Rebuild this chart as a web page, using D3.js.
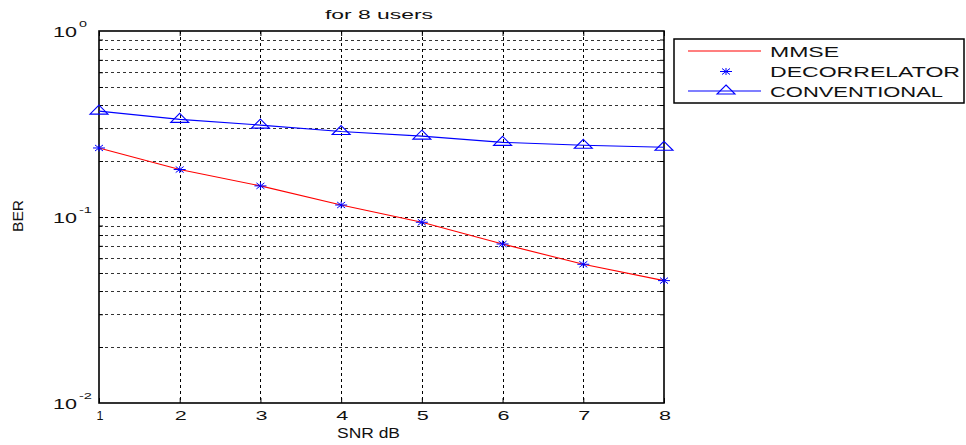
<!DOCTYPE html>
<html>
<head>
<meta charset="utf-8">
<script src="https://cdn.jsdelivr.net/npm/d3@7/dist/d3.min.js"></script>
<style>
  html, body { margin: 0; padding: 0; background: #fff; }
  svg { display: block; }
  text { font-family: "Liberation Sans", Arial, Helvetica, sans-serif; fill: #111; }
</style>
</head>
<body>
<svg id="chart" width="966" height="445"></svg>
<script>
// BER versus SNR for 8 users
const snr = [1, 2, 3, 4, 5, 6, 7, 8];
const mmse = [0.235, 0.180, 0.147, 0.116, 0.0937, 0.0716, 0.0557, 0.0455];
const decorrelator = [0.235, 0.180, 0.147, 0.116, 0.0937, 0.0716, 0.0557, 0.0455];
const conventional = [0.371, 0.335, 0.312, 0.288, 0.272, 0.252, 0.243, 0.237];
const xTicks = [1, 2, 3, 4, 5, 6, 7, 8];
const yDecades = [{ v: 1, exp: "0" }, { v: 0.1, exp: "-1" }, { v: 0.01, exp: "-2" }];
const legendNames = ["MMSE", "DECORRELATOR", "CONVENTIONAL"];

const svg = d3.select("#chart");
const L = 99, R = 664, T = 31, B = 403;

const x = d3.scaleLinear().domain([1, 8]).range([L, R]);
const y = d3.scaleLog().domain([0.01, 1]).range([B, T]);

// minor log positions (2..9 in each decade)
const yGrid = [];
[0.01, 0.1].forEach(d => { for (let k = 2; k <= 9; k++) yGrid.push(d * k); });

const g = svg.append("g");

// grid
g.selectAll("line.hgrid").data(yGrid).join("line")
  .attr("x1", L).attr("x2", R)
  .attr("y1", d => Math.round(y(d)) + 0.5).attr("y2", d => Math.round(y(d)) + 0.5)
  .attr("stroke", "#333").attr("stroke-width", 1).attr("stroke-dasharray", "3,3");
g.selectAll("line.hmaj").data([0.1]).join("line")
  .attr("x1", L).attr("x2", R)
  .attr("y1", d => Math.round(y(d)) + 0.5).attr("y2", d => Math.round(y(d)) + 0.5)
  .attr("stroke", "#000").attr("stroke-width", 1).attr("stroke-dasharray", "3,3");
g.selectAll("line.vgrid").data(xTicks.slice(1, -1)).join("line")
  .attr("x1", d => Math.round(x(d)) + 0.5).attr("x2", d => Math.round(x(d)) + 0.5)
  .attr("y1", T).attr("y2", B)
  .attr("stroke", "#000").attr("stroke-width", 1).attr("stroke-dasharray", "3,3");

// axes with inward ticks on all four sides
const axB = d3.axisBottom(x).tickValues(xTicks).tickSize(-5).tickFormat("");
const axT = d3.axisTop(x).tickValues(xTicks).tickSize(-5).tickFormat("");
const yTickVals = yGrid.concat([0.1]);
const axL = d3.axisLeft(y).tickValues(yTickVals).tickSize(-4).tickFormat("");
const axR = d3.axisRight(y).tickValues(yTickVals).tickSize(-4).tickFormat("");
[[axB, `translate(0,${B})`], [axT, `translate(0,${T})`], [axL, `translate(${L},0)`], [axR, `translate(${R},0)`]]
  .forEach(([ax, tr]) => {
    const a = svg.append("g").attr("transform", tr).call(ax);
    a.select(".domain").remove();
    a.selectAll(".tick line").attr("stroke", "#000");
  });
svg.append("rect").attr("x", L).attr("y", T).attr("width", R - L).attr("height", B - T)
  .attr("fill", "none").attr("stroke", "#000").attr("stroke-width", 1.6);

// x tick labels
svg.selectAll("text.xt").data(xTicks).join("text")
  .attr("x", d => x(d) + 1).attr("y", 420).attr("text-anchor", "middle")
  .attr("font-size", 13)
  .attr("textLength", d => d === 1 ? 7 : 12).attr("lengthAdjust", "spacingAndGlyphs")
  .text(d => d);

// y tick labels (10 with superscript exponent)
yDecades.forEach(d => {
  const yy = y(d.v);
  svg.append("text").attr("x", 53).attr("y", yy + 5.5).attr("font-size", 14)
    .attr("textLength", 24).attr("lengthAdjust", "spacingAndGlyphs").text("10");
  svg.append("text").attr("x", 79).attr("y", yy - 4.5).attr("font-size", 9.5)
    .attr("textLength", d.exp.length === 1 ? 8 : 13).attr("lengthAdjust", "spacingAndGlyphs").text(d.exp);
});

// title and axis labels
svg.append("text").attr("x", 325).attr("y", 18.5).attr("font-size", 13)
  .attr("textLength", 108).attr("lengthAdjust", "spacingAndGlyphs").text("for 8 users");
svg.append("text").attr("x", 337).attr("y", 437.5).attr("font-size", 14)
  .attr("textLength", 63).attr("lengthAdjust", "spacingAndGlyphs").text("SNR dB");
svg.append("text").attr("transform", "translate(23,232) rotate(-90)").attr("font-size", 14)
  .attr("textLength", 32).attr("lengthAdjust", "spacingAndGlyphs").text("BER");

// series
const line = d3.line().x((d, i) => x(snr[i])).y(d => y(d));
svg.append("path").datum(mmse).attr("d", line)
  .attr("fill", "none").attr("stroke", "#ff0000").attr("stroke-width", 1.1);
svg.append("path").datum(conventional).attr("d", line)
  .attr("fill", "none").attr("stroke", "#0000ff").attr("stroke-width", 1.1);

const starPath = "M-6,0H6M0,-3.5V3.5M-4,-3L4,3M-4,3L4,-3";
const triPath = "M0,-6L9,3L-9,3Z";

svg.selectAll("path.star").data(decorrelator).join("path")
  .attr("transform", (d, i) => `translate(${x(snr[i])},${y(d)})`)
  .attr("d", starPath).attr("fill", "none").attr("stroke", "#0000ff").attr("stroke-width", 1);
svg.selectAll("path.tri").data(conventional).join("path")
  .attr("transform", (d, i) => `translate(${x(snr[i])},${y(d)})`)
  .attr("d", triPath).attr("fill", "none").attr("stroke", "#0000ff").attr("stroke-width", 1.1);

// legend
const lg = svg.append("g");
lg.append("rect").attr("x", 674).attr("y", 39).attr("width", 290).attr("height", 64)
  .attr("fill", "#fff").attr("stroke", "#000").attr("stroke-width", 1.5);
const rowsY = [51, 71.5, 91];
const textLens = [69, 190, 173];
legendNames.forEach((name, i) => {
  lg.append("text").attr("x", 770).attr("y", rowsY[i] + 5.5).attr("font-size", 15)
    .attr("textLength", textLens[i]).attr("lengthAdjust", "spacingAndGlyphs").text(name);
});
lg.append("line").attr("x1", 688).attr("x2", 761).attr("y1", rowsY[0]).attr("y2", rowsY[0])
  .attr("stroke", "#ff0000").attr("stroke-width", 1.1);
lg.append("path").attr("transform", `translate(726,${rowsY[1]})`).attr("d", starPath)
  .attr("fill", "none").attr("stroke", "#0000ff").attr("stroke-width", 1);
lg.append("line").attr("x1", 688).attr("x2", 761).attr("y1", rowsY[2]).attr("y2", rowsY[2])
  .attr("stroke", "#0000ff").attr("stroke-width", 1.1);
lg.append("path").attr("transform", `translate(726,${rowsY[2]})`).attr("d", triPath)
  .attr("fill", "none").attr("stroke", "#0000ff").attr("stroke-width", 1.1);
</script>
</body>
</html>
